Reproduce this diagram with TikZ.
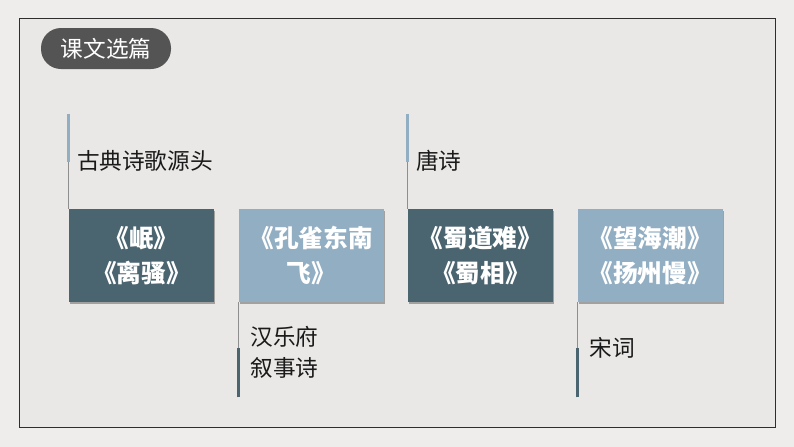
\documentclass[tikz,border=0pt]{standalone}
\usepackage{fontspec}
\usepackage{xcolor}
\usepackage{tikz}
\usetikzlibrary{positioning,shadows}
\newfontfamily\cjk{Noto Sans CJK SC}
\definecolor{paper}{HTML}{EEEDEB}
\definecolor{sheet}{HTML}{EAE8E6}
\definecolor{frame}{HTML}{2E2E2E}
\definecolor{pill}{HTML}{545454}
\definecolor{deep}{HTML}{4A6470}
\definecolor{pale}{HTML}{92AEC3}
\definecolor{ink}{HTML}{1A1A1A}
\definecolor{thin}{HTML}{8E8E8E}
\tikzset{
  box/.style={minimum width=108.75pt, minimum height=69.75pt, inner sep=0pt, align=center,
    text=white, font=\cjk\bfseries\fontsize{18.5}{26}\selectfont,
    drop shadow={shadow xshift=1pt, shadow yshift=-1.5pt, opacity=0.3, fill=black}},
  tag/.style={inner sep=0pt, align=left, text=ink, font=\cjk\fontsize{17}{23}\selectfont},
  stem/.style={draw=thin, line width=0.6pt},
  tipup/.style={draw=pale, line width=2.2pt},
  tipdown/.style={draw=deep, line width=2.2pt},
}
\begin{document}
\begin{tikzpicture}[x=0.75pt,y=-0.75pt]
  \useasboundingbox (0,0) rectangle (794,447);
  \fill[paper] (0,0) rectangle (794,447);
  \draw[frame, fill=sheet, line width=0.7pt] (19,18) rectangle (775,427);
  \node[fill=pill, rounded corners=15pt, minimum width=97.5pt, minimum height=30.75pt,
    text=white, font=\cjk\fontsize{17}{20}\selectfont] (title) at (106,48.5) {课文选篇};
  % the four boxes
  \node[box, fill=deep] (b1) at (141.5,255.5) {《岷》\\《离骚》};
  \node[box, fill=pale, right=18pt of b1] (b2) {《孔雀东南\\飞》};
  \node[box, fill=deep, right=18pt of b2] (b3) {《蜀道难》\\《蜀相》};
  \node[box, fill=pale, right=18pt of b3] (b4) {《望海潮》\\《扬州慢》};
  % stems above
  \coordinate (t1) at ([yshift=71.25pt]b1.north west);
  \coordinate (t3) at ([yshift=71.25pt]b3.north west);
  \draw[stem] (b1.north west) -- (t1);
  \draw[tipup] (t1) -- ([yshift=-36pt]t1);
  \draw[stem] (b3.north west) -- (t3);
  \draw[tipup] (t3) -- ([yshift=-36pt]t3);
  \node[tag, anchor=west] (l1) at ([xshift=6pt,yshift=-35.25pt]t1) {古典诗歌源头};
  \node[tag, anchor=west] (l3) at ([xshift=6pt,yshift=-35.25pt]t3) {唐诗};
  % stems below
  \coordinate (d2) at ([yshift=-71.25pt]b2.south west);
  \coordinate (d4) at ([yshift=-71.25pt]b4.south west);
  \draw[stem] (b2.south west) -- (d2);
  \draw[tipdown] (d2) -- ([yshift=36.75pt]d2);
  \draw[stem] (b4.south west) -- (d4);
  \draw[tipdown] (d4) -- ([yshift=36.75pt]d4);
  \node[tag, anchor=west] (l2) at ([xshift=9pt,yshift=-37.5pt]b2.south west) {汉乐府\\叙事诗};
  \node[tag, anchor=west] (l4) at ([xshift=9pt,yshift=-34.5pt]b4.south west) {宋词};
\end{tikzpicture}
\end{document}
